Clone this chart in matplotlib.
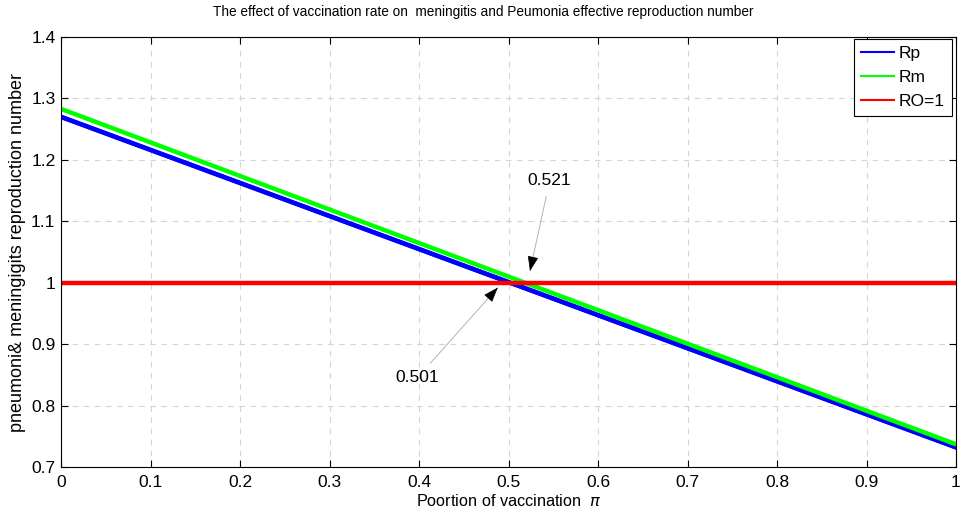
import numpy as np
import matplotlib
matplotlib.use("Agg")
import matplotlib.pyplot as plt

plt.rcParams['font.family'] = ['Liberation Sans', 'DejaVu Sans']

# endpoints of the two straight lines
vacc = [0.0, 1.0]
rp = [1.270, 0.732]
rm = [1.283, 0.737]
r0 = [1.0, 1.0]

x_ticks = [0, 0.1, 0.2, 0.3, 0.4, 0.5, 0.6, 0.7, 0.8, 0.9, 1]
x_labels = ["0", "0.1", "0.2", "0.3", "0.4", "0.5", "0.6", "0.7", "0.8", "0.9", "1"]
y_ticks = [0.7, 0.8, 0.9, 1.0, 1.1, 1.2, 1.3, 1.4]
y_labels = ["0.7", "0.8", "0.9", "1", "1.1", "1.2", "1.3", "1.4"]

# annotation labels: (text, arrow tip, text position)
notes = [("0.521", (0.524, 1.019), (0.546, 1.166)),
         ("0.501", (0.488, 0.992), (0.398, 0.845))]

fig = plt.figure(figsize=(9.64, 5.14), dpi=100)
ax = fig.add_axes([61 / 964, 1 - 467 / 514, 895 / 964, 430 / 514])

ax.plot(vacc, rp, color="#0000ff", lw=3.2, label="Rp")
ax.plot(vacc, rm, color="#00ff00", lw=3.2, label="Rm")
ax.plot(vacc, r0, color="#ff0000", lw=3.2, label="RO=1")
# redraw so blue sits over green as in the picture
ax.plot(vacc, rp, color="#0000ff", lw=3.2, zorder=1.9)

ax.set_xlim(0, 1)
ax.set_ylim(0.7, 1.4)
ax.set_xticks(x_ticks)
ax.set_xticklabels(x_labels)
ax.set_yticks(y_ticks)
ax.set_yticklabels(y_labels)
ax.tick_params(direction="in", labelsize=12.5, length=5, top=True, right=True,
               labeltop=False, labelright=False)
ax.tick_params(axis="x", pad=6)
ax.tick_params(axis="y", pad=4)
ax.grid(True, linestyle=(0, (5, 5)), color="#d4d4d4", lw=0.8)

for txt, tip, pos in notes:
    ax.annotate(txt, xy=tip, xytext=pos, fontsize=12.5, ha="center", va="center",
                arrowprops=dict(arrowstyle="-", color="#b4b4b4", lw=0.7,
                                shrinkA=4, shrinkB=0))
    # short black arrow head along the same line
    start = (tip[0] + 0.1 * (pos[0] - tip[0]), tip[1] + 0.1 * (pos[1] - tip[1]))
    ax.annotate("", xy=tip, xytext=start,
                arrowprops=dict(arrowstyle="-|>,head_length=0.55,head_width=0.2",
                                color="black", lw=0.5, shrinkA=0, shrinkB=0,
                                mutation_scale=17))

ax.set_xlabel("Poortion of vaccination  $\\pi$", fontsize=11.7, labelpad=2)
ax.set_ylabel("pneumoni& meningigits reproduction number", fontsize=13, labelpad=4)
ax.set_title("The effect of vaccination rate on  meningitis and Peumonia effective reproduction number",
             fontsize=9.8, pad=15, x=0.4715)

leg = ax.legend(loc="upper right", bbox_to_anchor=(952 / 964, 1 - 39 / 514),
                bbox_transform=fig.transFigure, borderaxespad=0,
                fontsize=12.5, fancybox=False, framealpha=1,
                edgecolor="black", handlelength=1.9,
                handletextpad=0.3, labelspacing=0.5, borderpad=0.4)
leg.get_frame().set_linewidth(0.8)
for line in leg.get_lines():
    line.set_linewidth(1.5)

fig.savefig("out.png", dpi=100)
